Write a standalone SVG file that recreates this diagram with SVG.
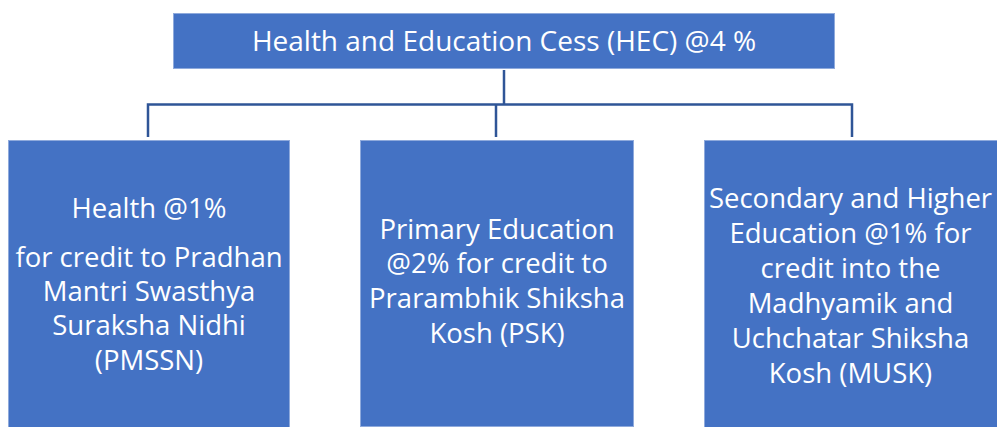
<svg xmlns="http://www.w3.org/2000/svg" width="997" height="427" viewBox="0 0 997 427">
  <style>
    .box { fill: #4472C4; stroke: #8FAADC; stroke-width: 1; }
    .lbl { fill: #FFFFFF; font-family: "Open Sans", "Noto Sans", sans-serif; text-anchor: middle; }
    .top { font-size: 28px; }
    .sub { font-size: 27.5px; }
    .conn { fill: none; stroke: #2F5597; stroke-width: 2.5; }
  </style>
  <rect width="997" height="427" fill="#FFFFFF"/>

  <g id="connectors">
    <path class="conn" d="M504,70 V104.5"/>
    <path class="conn" d="M148,137 V104.5 H852 V137"/>
    <path class="conn" d="M496,104.5 V137"/>
  </g>

  <g id="hec">
    <rect class="box" x="173.5" y="13.5" width="661" height="55"/>
    <text class="lbl top" x="504" y="50.5">Health and Education Cess (HEC) @4 %</text>
  </g>

  <g id="health">
    <rect class="box" x="8.5" y="140.5" width="281" height="290"/>
    <text class="lbl sub" x="149" y="218">Health @1%</text>
    <text class="lbl sub" x="149" y="267">for credit to Pradhan</text>
    <text class="lbl sub" x="149" y="301">Mantri Swasthya</text>
    <text class="lbl sub" x="149" y="335">Suraksha Nidhi</text>
    <text class="lbl sub" x="149" y="370">(PMSSN)</text>
  </g>

  <g id="primary">
    <rect class="box" x="360.5" y="140.5" width="273" height="286"/>
    <text class="lbl sub" x="497" y="239">Primary Education</text>
    <text class="lbl sub" x="497" y="273">@2% for credit to</text>
    <text class="lbl sub" x="497" y="308">Prarambhik Shiksha</text>
    <text class="lbl sub" x="497" y="343">Kosh (PSK)</text>
  </g>

  <g id="secondary">
    <rect class="box" x="704.5" y="140.5" width="296" height="290"/>
    <text class="lbl sub" x="850.5" y="208">Secondary and Higher</text>
    <text class="lbl sub" x="850.5" y="243">Education @1% for</text>
    <text class="lbl sub" x="850.5" y="278">credit into the</text>
    <text class="lbl sub" x="850.5" y="313">Madhyamik and</text>
    <text class="lbl sub" x="850.5" y="348">Uchchatar Shiksha</text>
    <text class="lbl sub" x="850.5" y="383">Kosh (MUSK)</text>
  </g>
</svg>
